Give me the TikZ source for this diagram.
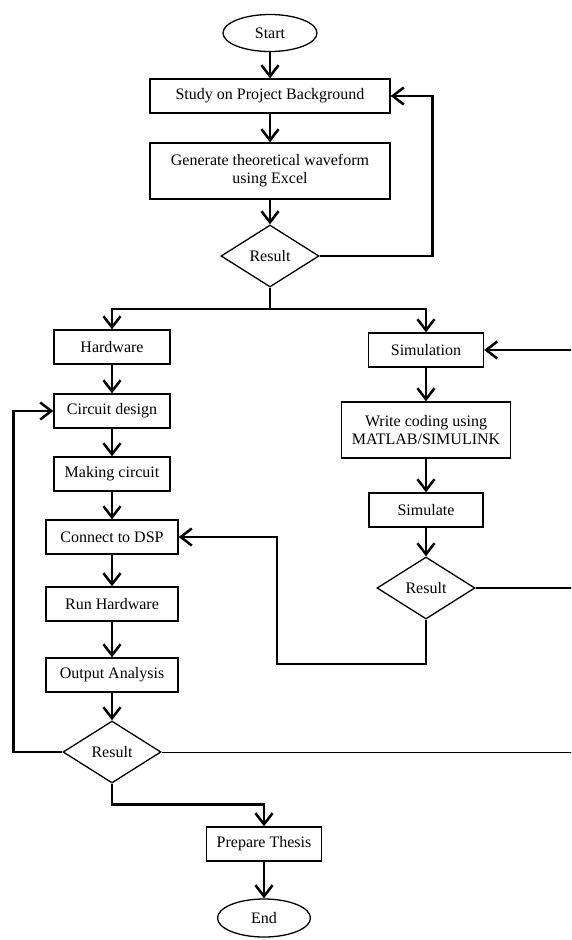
\documentclass[tikz,border=0pt]{standalone}
\usepackage{fontspec}
\setmainfont{Liberation Serif}
\usetikzlibrary{arrows.meta,shapes.geometric}

\begin{document}
\begin{tikzpicture}[x=1pt, y=-1pt, line width=2.5pt, arrows={-Straight Barb[angle=75:14pt]},
	font=\fontsize{16}{18}\selectfont,
	box/.style={draw, rectangle, line width=1.3pt, minimum height=34pt, align=center, inner sep=2pt},
	term/.style={draw, ellipse, line width=1.3pt, minimum width=94pt, minimum height=37pt, inner sep=0pt},
	test/.style={draw, diamond, line width=1.3pt, minimum width=98pt, minimum height=62pt, inner sep=0pt}]
	\clip (0,0) rectangle (571,940);
	\node[term] (S) at (270,33) {Start};
	\node[box, minimum width=240pt] (B1) at (270,96) {Study on Project Background};
	\node[box, minimum width=240pt, minimum height=56pt] (B2) at (270,171) {Generate theoretical waveform\\using Excel};
	\node[test] (R1) at (270,256) {Result};
	\node[box, minimum width=116pt] (H1) at (112,347) {Hardware};
	\node[box, minimum width=116pt] (H2) at (112,411) {Circuit design};
	\node[box, minimum width=116pt] (H3) at (112,474) {Making circuit};
	\node[box, minimum width=132pt] (H4) at (112,537) {Connect to DSP};
	\node[box, minimum width=132pt] (H5) at (112,604) {Run Hardware};
	\node[box, minimum width=132pt] (H6) at (112,675) {Output Analysis};
	\node[test] (R3) at (112,752) {Result};
	\node[box, minimum width=115pt] (P) at (264,844) {Prepare Thesis};
	\node[term, minimum width=93pt, minimum height=38pt] (E) at (264,918) {End};
	\node[box, minimum width=115pt] (S1) at (426,350) {Simulation};
	\node[box, minimum width=169pt, minimum height=56pt] (S2) at (426,430) {Write coding using\\MATLAB/SIMULINK};
	\node[box, minimum width=114pt] (S3) at (426,510) {Simulate};
	\node[test] (R2) at (426,588) {Result};
	\coordinate (J1) at (270,309);
	\coordinate (K) at (578,588);
	\coordinate (C2) at (277,664);
	\draw (S) -- (B1);
	\draw (B1) -- (B2);
	\draw (B2) -- (R1);
	\draw (R1.east) -- ++(113,0) |- (B1.east);
	\draw[-] (R1.south) -- (J1);
	\draw (J1) -| (H1);
	\draw (J1) -| (S1);
	\draw (H1) -- (H2);
	\draw (H2) -- (H3);
	\draw (H3) -- (H4);
	\draw (H4) -- (H5);
	\draw (H5) -- (H6);
	\draw (H6) -- (R3);
	\draw (R3.west) -- ++(-49,0) |- (H2.west);
	\draw[-, line width=1pt] (R3.east) -- (R3.east -| K);
	\draw (R3.south) -- ++(0,21) -| (P);
	\draw (P) -- (E);
	\draw (S1) -- (S2);
	\draw (S2) -- (S3);
	\draw (S3) -- (R2);
	\draw (R2.east) -- (K) |- (S1.east);
	\draw (R2.south) |- (C2) |- (H4.east);
\end{tikzpicture}
\end{document}
